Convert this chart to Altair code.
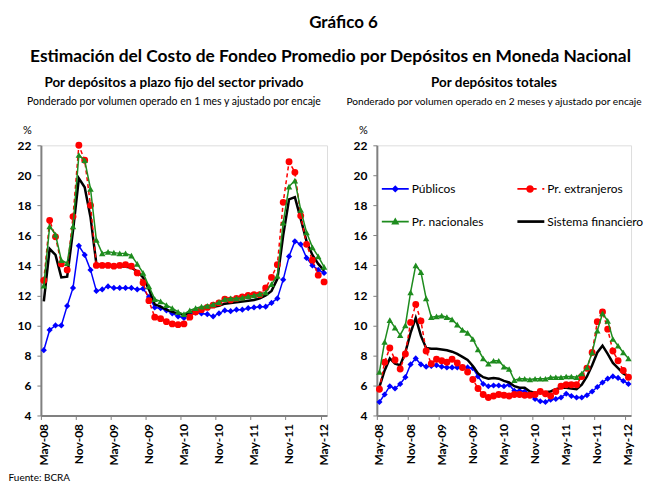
import altair as alt
import pandas as pd

# ---------------- data ----------------
meses = list(pd.date_range("2008-05-01", "2012-05-01", freq="MS").strftime("%b-%y"))
ticks = meses[::6]

series = ["Públicos", "Pr. extranjeros", "Pr. nacionales", "Sistema financiero"]

izq_publicos = [8.35, 9.7, 10.0, 10.0, 11.3, 12.5, 15.3, 14.7, 13.7, 12.3,
                12.4, 12.6, 12.5, 12.5, 12.5, 12.5, 12.4, 12.45, 11.9, 11.2,
                11.15, 11.0, 10.8, 10.6, 10.5, 10.75, 10.85, 10.8, 10.75, 10.6,
                10.8, 11.0, 10.95, 11.05, 11.05, 11.15, 11.2, 11.25, 11.25, 11.5,
                11.8, 13.05, 14.6, 15.6, 15.4, 14.5, 14.0, 13.7, 13.5]
izq_extranjeros = [13.0, 17.0, 15.9, 14.1, 13.7, 17.25, 22.0, 21.0, 18.0, 14.0,
                   14.0, 14.0, 13.95, 14.0, 14.05, 13.95, 13.5, 12.85, 11.65, 10.55,
                   10.45, 10.25, 10.1, 10.05, 10.1, 10.55, 10.9, 11.05, 11.2, 11.35,
                   11.5, 11.75, 11.7, 11.8, 11.9, 12.0, 12.05, 12.05, 12.5, 13.2,
                   14.05, 18.2, 20.9, 20.2, 17.3, 15.4, 14.35, 13.35, 12.9]
izq_nacionales = [12.65, 16.6, 16.05, 14.35, 14.15, 16.6, 21.35, 21.0, 19.1, 15.7,
                  14.8, 14.9, 14.85, 14.8, 14.8, 14.65, 14.1, 13.5, 12.6, 11.75,
                  11.6, 11.35, 11.15, 10.9, 10.75, 11.0, 11.15, 11.25, 11.3, 11.4,
                  11.55, 11.75, 11.8, 11.8, 11.85, 11.95, 12.0, 12.1, 12.2, 12.75,
                  13.3, 16.85, 19.25, 19.65, 17.7, 16.2, 15.2, 14.6, 13.9]
izq_sistema = [11.6, 15.1, 14.7, 13.2, 13.25, 16.3, 19.8, 19.2, 17.2, 14.1,
               14.0, 14.0, 13.95, 13.95, 13.9, 13.85, 13.6, 13.2, 12.4, 11.4,
               11.25, 11.05, 10.9, 10.8, 10.7, 10.85, 11.0, 11.1, 11.2, 11.25,
               11.3, 11.45, 11.5, 11.55, 11.6, 11.65, 11.7, 11.8, 12.0, 12.3,
               13.1, 16.0, 18.4, 18.55, 17.1, 15.6, 14.7, 14.1, 13.65]

der_publicos = [4.9, 5.4, 5.95, 5.8, 6.1, 6.55, 7.4, 7.8, 7.4, 7.25,
                7.3, 7.35, 7.25, 7.2, 7.2, 7.2, 7.2, 7.2, 7.15, 6.6,
                6.1, 5.95, 6.0, 6.0, 5.95, 6.05, 5.65, 5.65, 5.6, 5.4,
                5.1, 4.95, 4.9, 5.05, 5.1, 5.2, 5.45, 5.3, 5.2, 5.2,
                5.35, 5.6, 5.9, 6.2, 6.45, 6.6, 6.5, 6.3, 6.1]
der_extranjeros = [5.75, 7.55, 8.5, 7.7, 7.1, 8.1, 10.2, 11.4, 10.3, 8.3,
                   7.45, 7.75, 7.65, 7.55, 7.75, 7.5, 7.2, 6.9, 6.4, 5.8,
                   5.4, 5.2, 5.3, 5.4, 5.35, 5.3, 5.4, 5.4, 5.35, 5.35,
                   5.4, 5.6, 5.45, 5.3, 5.6, 5.95, 6.05, 6.05, 6.05, 6.6,
                   7.15, 8.2, 10.25, 10.9, 9.75, 8.3, 7.65, 7.0, 6.55]
der_nacionales = [6.9, 8.9, 10.35, 9.85, 9.35, 10.0, 12.2, 14.0, 13.55, 11.8,
                  10.55, 10.6, 10.65, 10.55, 10.4, 10.05, 9.7, 9.5, 9.1, 8.4,
                  7.8, 7.45, 7.65, 7.65, 7.25, 7.1, 6.35, 6.45, 6.45, 6.4,
                  6.45, 6.45, 6.45, 6.55, 6.55, 6.55, 6.6, 6.6, 6.55, 6.8,
                  7.2, 8.2, 9.65, 10.8, 10.3, 9.1, 8.65, 8.2, 7.8]
der_sistema = [5.9, 7.0, 7.8, 7.45, 7.35, 8.2, 9.5, 10.5, 9.3, 8.5,
               8.45, 8.45, 8.4, 8.35, 8.25, 8.1, 7.9, 7.7, 7.3, 6.8,
               6.55, 6.45, 6.5, 6.45, 6.3, 6.2, 5.95, 5.85, 5.85, 5.6,
               5.5, 5.55, 5.55, 5.6, 5.75, 5.85, 5.85, 5.8, 5.75, 6.05,
               6.6, 7.35, 8.2, 8.65, 8.1, 7.5, 7.15, 6.8, 6.6]


def tabla(pub, ext, nac, sis):
    filas = []
    for nombre, vals in zip(series, [pub, ext, nac, sis]):
        for m, v in zip(meses, vals):
            filas.append({"mes": m, "serie": nombre, "valor": v})
    return pd.DataFrame(filas)


df_izq = tabla(izq_publicos, izq_extranjeros, izq_nacionales, izq_sistema)
df_der = tabla(der_publicos, der_extranjeros, der_nacionales, der_sistema)

# ---------------- styling ----------------
FONT = "Lato"
colores = ["#0000FF", "#FF0000", "#1E8C1E", "#000000"]
GRIS = "#808080"

# legend symbols: line + marker, unit square scaled by symbolSize
sym_pub = "M-1,-0.06H1V0.06H-1Z M0,-0.27L0.27,0L0,0.27L-0.27,0Z"
sym_ext = ("M-1,-0.06H0.43V0.06H-1Z M0.85,-0.06H1V0.06H0.85Z "
           "M0.22,0A0.28,0.28,0,1,1,-0.34,0A0.28,0.28,0,1,1,0.22,0Z")
sym_nac = "M-1,-0.06H1V0.06H-1Z M0,-0.3L0.3,0.22H-0.3Z"
sym_sis = "M-1,-0.1H1V0.1H-1Z"
simbolos = [sym_pub, sym_ext, sym_nac, sym_sis]

H = 271


def panel(df, width, titulo, subtitulo, dx, sub_size, con_leyenda):
    base = alt.Chart(df).encode(
        x=alt.X("mes:O", sort=meses,
                scale=alt.Scale(type="band", domain=meses, paddingInner=0, paddingOuter=0),
                axis=alt.Axis(values=ticks, bandPosition=0, labelAngle=-90, title=None,
                              labelFont=FONT, labelFontSize=12, labelFontWeight="bold",
                              labelColor="black", labelPadding=4, tickSize=4,
                              tickColor=GRIS, domainColor=GRIS, domainWidth=2, grid=False)),
        y=alt.Y("valor:Q", scale=alt.Scale(domain=[4, 22], nice=False, zero=False),
                axis=alt.Axis(values=list(range(4, 23, 2)), title="%", titleAngle=0,
                              titleX=-14, titleY=-15, titleAlign="center",
                              titleBaseline="middle", titleFont=FONT, titleFontSize=11,
                              titleFontWeight="normal", titleColor="black",
                              labelFont=FONT, labelFontSize=12, labelFontWeight="bold",
                              labelColor="black", labelPadding=6, tickSize=4,
                              tickColor=GRIS, domainColor=GRIS, domainWidth=2, grid=False)),
    )

    def filtro(nombre):
        return base.transform_filter(alt.FieldEqualPredicate(field="serie", equal=nombre))

    capas = [
        filtro("Públicos").mark_line(color=colores[0], strokeWidth=1.5),
        filtro("Públicos").mark_point(shape="diamond", filled=True, color=colores[0],
                                      size=38, opacity=1),
        filtro("Sistema financiero").mark_line(color=colores[3], strokeWidth=2.5),
        filtro("Pr. extranjeros").mark_line(color=colores[1], strokeWidth=1.5,
                                            strokeDash=[4, 3]),
        filtro("Pr. extranjeros").mark_point(shape="circle", filled=True, color=colores[1],
                                             size=48, opacity=1),
        filtro("Pr. nacionales").mark_line(color=colores[2], strokeWidth=1.5),
        filtro("Pr. nacionales").mark_point(shape="triangle-up", filled=True,
                                            color=colores[2], size=42, opacity=1),
    ]
    if con_leyenda:
        ley = alt.Chart(df).transform_filter("false").mark_point(
            filled=True, opacity=1, strokeWidth=0).encode(
            color=alt.Color("serie:N", scale=alt.Scale(domain=series, range=colores),
                            legend=alt.Legend(title=None, orient="none", legendX=5, legendY=30,
                                              direction="horizontal",
                                              columns=2, columnPadding=34, rowPadding=13,
                                              symbolSize=729, symbolStrokeWidth=0,
                                              labelFont=FONT, labelFontSize=12,
                                              labelColor="black", labelOffset=3,
                                              padding=0)),
            shape=alt.Shape("serie:N", scale=alt.Scale(domain=series, range=simbolos)),
        )
        capas.append(ley)

    return alt.layer(*capas).properties(
        width=width, height=H,
        title=alt.TitleParams(titulo, subtitle=subtitulo, font=FONT, fontSize=13.5,
                              fontWeight="bold", color="black", subtitleFont=FONT,
                              subtitleFontSize=sub_size, subtitleColor="black",
                              subtitlePadding=8, anchor="middle", frame="group",
                              dx=dx, offset=17),
    )


izq = panel(df_izq, 287, "Por depósitos a plazo fijo del sector privado",
            "Ponderado por volumen operado en 1 mes y ajustado por encaje", -10, 10.5, False)
der = panel(df_der, 255, "Por depósitos totales",
            "Ponderado por volumen operado en 2 meses y ajustado por encaje", -10, 10.2, True)

fila = alt.hconcat(izq, der, spacing=50, bounds="flush",
                   title=alt.TitleParams("Estimación del Costo de Fondeo Promedio por Depósitos en Moneda Nacional",
                                         font=FONT, fontSize=17.4, fontWeight="bold",
                                         color="black", anchor="middle", offset=10)
                   ).resolve_legend(color="independent", shape="independent")
medio = alt.vconcat(fila, title=alt.TitleParams("Gráfico 6", font=FONT, fontSize=17,
                                                  fontWeight="bold", color="black",
                                                  anchor="middle", dx=13, offset=16))
chart = alt.vconcat(medio, title=alt.TitleParams("Fuente: BCRA", orient="bottom", anchor="start",
                                                   font=FONT, fontSize=10, fontWeight="normal",
                                                   color="black", offset=7, dx=-8)).properties(
    padding={"left": 0, "top": 5, "right": 0, "bottom": 0}
).configure_view(stroke=None).configure(font=FONT)

chart.save("out.html", embed_options={"renderer": "svg", "actions": False})
